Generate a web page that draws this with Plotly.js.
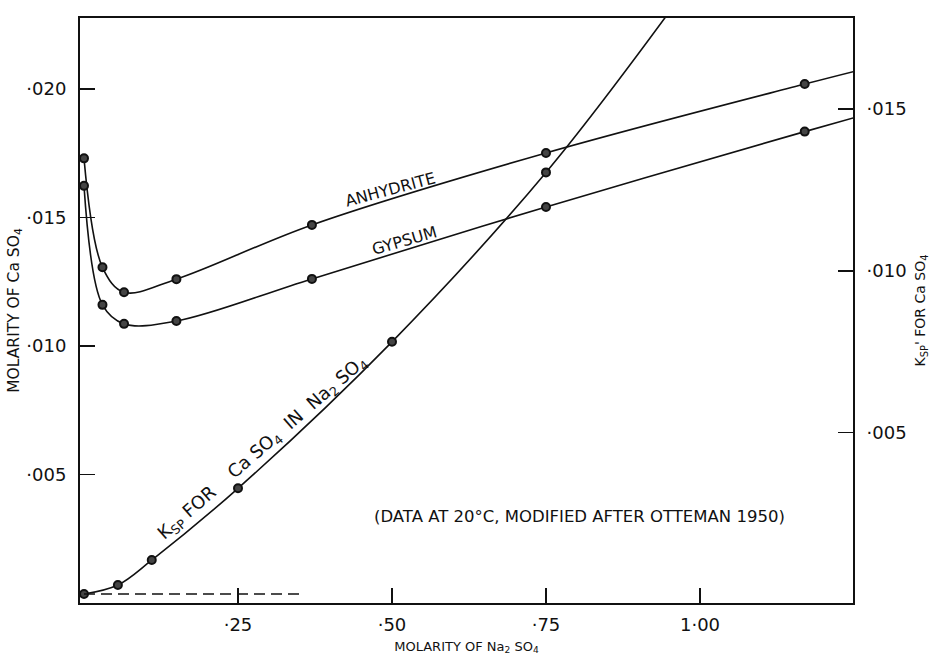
<!DOCTYPE html>
<html>
<head>
<meta charset="utf-8">
<script src="https://cdn.plot.ly/plotly-3.0.1.min.js"></script>
<style>
  html, body { margin: 0; padding: 0; background: #fff; }
  #chart { width: 935px; height: 661px; }
</style>
</head>
<body>
<div id="chart"></div>
<script>
// ---- data ----
// Molarity of Na2SO4 at the measured points (solubility curves)
const naSO4 = [0, 0.03, 0.065, 0.15, 0.37, 0.75, 1.17];
// Molarity of CaSO4 (left axis)
const anhydrite = [0.0173, 0.01306, 0.01209, 0.0126, 0.01471, 0.01751, 0.02019];
const gypsum    = [0.01623, 0.0116, 0.01086, 0.01097, 0.01261, 0.01541, 0.01834];
// where the drawn curves leave the frame (right edge)
const curveEndX = 1.25;
const anhydriteEnd = 0.02068;
const gypsumEnd = 0.01888;

// Ksp' for CaSO4 in Na2SO4 (right axis)
const kspNa  = [0, 0.055, 0.11, 0.25, 0.50, 0.75];
const kspVal = [0, 0.00028, 0.00105, 0.00327, 0.0078, 0.01304];
// where the Ksp curve leaves the frame (top edge)
const kspEndX = 0.95;
const kspEndVal = 0.0180;
// dashed zero line of the Ksp curve
const dashX = [0, 0.355];
const dashY = [0, 0];

// tick labels
const leftTickVals  = [0.005, 0.010, 0.015, 0.020];
const leftTickText  = ['·005', '·010', '·015', '·020'];
const rightTickVals = [0.005, 0.010, 0.015];
const rightTickText = ['·005', '·010', '·015'];
const xTickVals = [0.25, 0.50, 0.75, 1.00];
const xTickText = ['·25', '·50', '·75', '1·00'];

// ---- chart ----
const FONT = 'DejaVu Sans, Liberation Sans, sans-serif';
const INK = '#111';

const lineStyle = {color: INK, width: 1.6, shape: 'spline', smoothing: 1};
const markerStyle = {symbol: 'circle', size: 8, color: '#444', line: {color: INK, width: 2}};

const traces = [
  {x: naSO4.concat([curveEndX]), y: anhydrite.concat([anhydriteEnd]), mode: 'lines',
   line: lineStyle, name: 'Anhydrite', hoverinfo: 'skip'},
  {x: naSO4, y: anhydrite, mode: 'markers', marker: markerStyle, name: 'Anhydrite'},
  {x: naSO4.concat([curveEndX]), y: gypsum.concat([gypsumEnd]), mode: 'lines',
   line: lineStyle, name: 'Gypsum', hoverinfo: 'skip'},
  {x: naSO4, y: gypsum, mode: 'markers', marker: markerStyle, name: 'Gypsum'},
  {x: kspNa.concat([kspEndX]), y: kspVal.concat([kspEndVal]), mode: 'lines', yaxis: 'y2',
   line: lineStyle, name: 'Ksp', hoverinfo: 'skip'},
  {x: kspNa, y: kspVal, mode: 'markers', yaxis: 'y2', marker: markerStyle, name: 'Ksp'},
  {x: dashX, y: dashY, mode: 'lines', yaxis: 'y2',
   line: {color: INK, width: 1.3, dash: '11px,6px'}, name: 'zero', hoverinfo: 'skip'}
];

const layout = {
  width: 935, height: 661,
  margin: {l: 80, r: 82, t: 18, b: 58},
  paper_bgcolor: '#fff', plot_bgcolor: '#fff',
  showlegend: false,
  font: {family: FONT, color: INK, size: 14},
  xaxis: {
    range: [-0.0065, 1.2484],
    showgrid: false, zeroline: false,
    showline: true, linecolor: INK, linewidth: 2, mirror: true,
    ticks: 'inside', ticklen: 15, tickwidth: 1.6, tickcolor: INK,
    tickvals: xTickVals, ticktext: xTickText,
    tickfont: {size: 18, family: FONT, color: INK},
    ticklabelstandoff: 4,
    title: {text: 'MOLARITY OF Na<sub>2</sub> SO<sub>4</sub>', font: {size: 13, family: FONT, color: INK}, standoff: 8}
  },
  yaxis: {
    range: [0, 0.02276],
    showgrid: false, zeroline: false,
    showline: true, linecolor: INK, linewidth: 2,
    ticks: 'inside', ticklen: 15, tickwidth: 1.6, tickcolor: INK,
    tickvals: leftTickVals, ticktext: leftTickText,
    tickfont: {size: 18, family: FONT, color: INK},
    ticklabelstandoff: 8,
    title: {text: 'MOLARITY OF Ca SO<sub>4</sub>', font: {size: 15.5, family: FONT, color: INK}, standoff: 3}
  },
  yaxis2: {
    overlaying: 'y', side: 'right',
    range: [-0.000278, 0.017816],
    showgrid: false, zeroline: false,
    showline: true, linecolor: INK, linewidth: 2,
    ticks: 'inside', ticklen: 15, tickwidth: 1.6, tickcolor: INK,
    tickvals: rightTickVals, ticktext: rightTickText,
    tickfont: {size: 18, family: FONT, color: INK},
    ticklabelstandoff: 8,
    title: {text: "K<sub>SP</sub>' FOR Ca SO<sub>4</sub>", font: {size: 14, family: FONT, color: INK}, standoff: 10}
  },
  annotations: [
    {x: 0.497, y: 0.01607, xref: 'x', yref: 'y', text: 'ANHYDRITE', showarrow: false,
     textangle: -15, font: {size: 16, family: FONT, color: INK}},
    {x: 0.521, y: 0.01412, xref: 'x', yref: 'y', text: 'GYPSUM', showarrow: false,
     textangle: -16, font: {size: 16, family: FONT, color: INK}},
    {x: 0.290, y: 0.00602, xref: 'x', yref: 'y',
     text: 'K<sub>SP</sub> FOR    Ca SO<sub>4</sub>  IN  Na<sub>2</sub> SO<sub>4</sub>', showarrow: false,
     textangle: -41, font: {size: 18, family: FONT, color: INK}},
    {x: 0.8036, y: 0.003385, xref: 'x', yref: 'y',
     text: '(DATA AT 20°C, MODIFIED AFTER OTTEMAN 1950)', showarrow: false,
     font: {size: 16.5, family: FONT, color: INK}}
  ]
};

Plotly.newPlot('chart', traces, layout, {staticPlot: true, displayModeBar: false});
</script>
</body>
</html>
